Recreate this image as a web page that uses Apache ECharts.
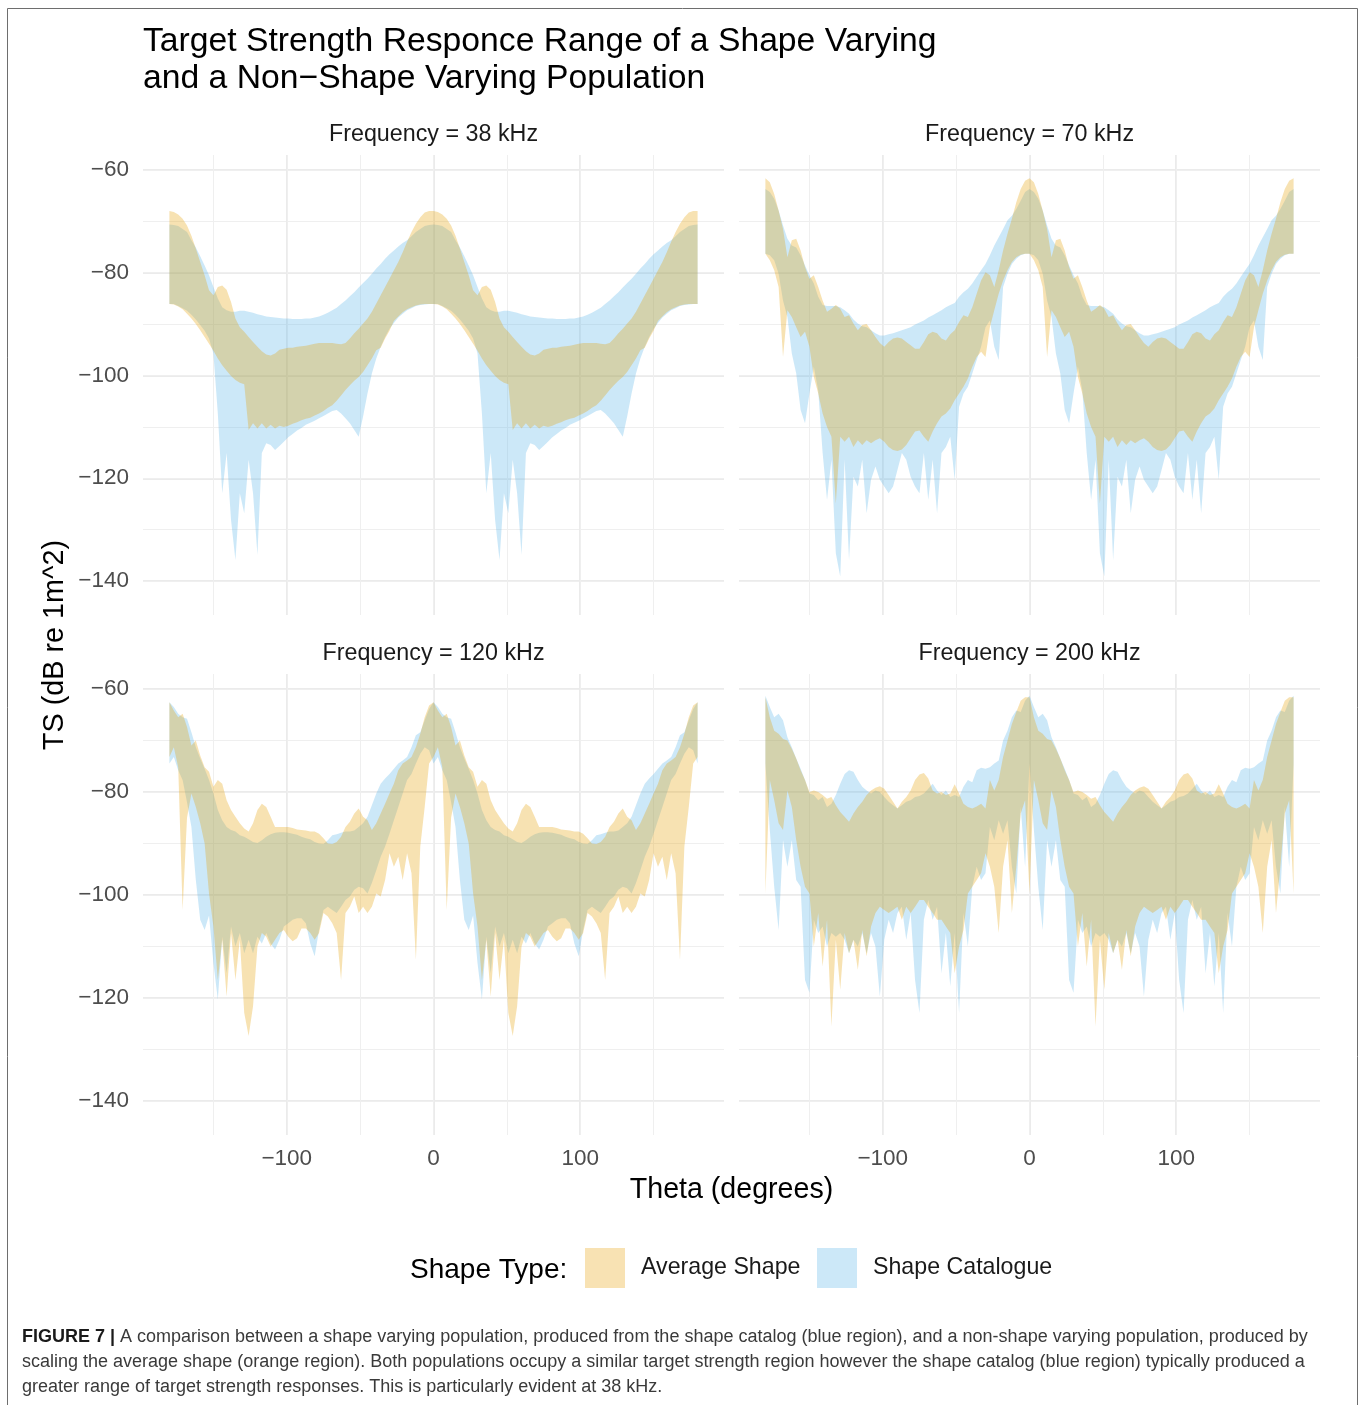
<!DOCTYPE html>
<html>
<head>
<meta charset="utf-8">
<title>Target Strength Responce Range</title>
<script src="https://cdn.jsdelivr.net/npm/echarts@6.0.0/dist/echarts.min.js"></script>
<style>
  html, body { margin: 0; padding: 0; background: #fff; }
  #chart { width: 1360px; height: 1405px; }
</style>
</head>
<body>
<div id="chart"></div>
<script>
// theta (degrees), shared by all four panels
var theta = [
  -180,-177,-174,-171,-168,-165,-162,-159,-156,-153,
  -150,-147,-144,-141,-138,-135,-132,-129,-126,-123,
  -120,-117,-114,-111,-108,-105,-102,-99,-96,-93,
  -90,-87,-84,-81,-78,-75,-72,-69,-66,-63,
  -60,-57,-54,-51,-48,-45,-42,-39,-36,-33,
  -30,-27,-24,-21,-18,-15,-12,-9,-6,-3,
  0,3,6,9,12,15,18,21,24,27,
  30,33,36,39,42,45,48,51,54,57,
  60,63,66,69,72,75,78,81,84,87,
  90,93,96,99,102,105,108,111,114,117,
  120,123,126,129,132,135,138,141,144,147,
  150,153,156,159,162,165,168,171,174,177,
  180
];

// 38 kHz : upper / lower TS edge of each population
var avg38Hi = [
  -68.0,-68.2,-68.7,-69.5,-70.8,-72.8,-75.3,-77.9,-80.5,-83.4,
  -84.4,-82.8,-82.5,-83.3,-85.7,-88.9,-90.6,-91.5,-92.5,-93.5,
  -94.4,-95.3,-95.9,-96.1,-95.7,-95.0,-94.8,-94.6,-94.6,-94.4,
  -94.3,-94.2,-94.0,-93.8,-93.7,-93.7,-93.7,-93.7,-93.8,-93.9,
  -93.7,-92.8,-91.8,-90.9,-89.9,-88.9,-87.6,-86.0,-84.4,-82.8,
  -81.2,-79.5,-77.9,-76.0,-74.0,-72.1,-70.5,-69.2,-68.3,-68.0,
  -68.0,-68.2,-68.7,-69.5,-70.8,-72.8,-75.3,-77.9,-80.5,-83.4,
  -84.4,-82.8,-82.5,-83.3,-85.7,-88.9,-90.6,-91.5,-92.5,-93.5,
  -94.4,-95.3,-95.9,-96.1,-95.7,-95.0,-94.8,-94.6,-94.6,-94.4,
  -94.3,-94.2,-94.0,-93.8,-93.7,-93.7,-93.7,-93.7,-93.8,-93.9,
  -93.7,-92.8,-91.8,-90.9,-89.9,-88.9,-87.6,-86.0,-84.4,-82.8,
  -81.2,-79.5,-77.9,-76.0,-74.0,-72.1,-70.5,-69.2,-68.3,-68.0,
  -68.0
];
var avg38Lo = [
  -86.1,-86.2,-86.6,-87.1,-88.0,-88.9,-90.0,-91.2,-92.5,-93.8,
  -95.2,-96.7,-98.0,-99.1,-100.1,-100.9,-101.4,-101.7,-110.6,-109.3,
  -110.3,-109.3,-110.3,-109.6,-110.3,-109.8,-110.0,-109.8,-109.4,-109.1,
  -108.7,-108.4,-108.2,-107.8,-107.4,-106.9,-106.3,-105.8,-104.9,-103.9,
  -102.8,-101.9,-101.0,-100.3,-99.3,-98.0,-96.7,-95.1,-94.6,-92.8,
  -91.3,-89.4,-88.5,-87.7,-87.1,-86.7,-86.4,-86.2,-86.1,-86.1,
  -86.1,-86.2,-86.6,-87.1,-88.0,-88.9,-90.0,-91.2,-92.5,-93.8,
  -95.2,-96.7,-98.0,-99.1,-100.1,-100.9,-101.4,-101.7,-110.6,-109.3,
  -110.3,-109.3,-110.3,-109.6,-110.3,-109.8,-110.0,-109.8,-109.4,-109.1,
  -108.7,-108.4,-108.2,-107.8,-107.4,-106.9,-106.3,-105.8,-104.9,-103.9,
  -102.8,-101.9,-101.0,-100.3,-99.3,-98.0,-96.7,-95.1,-94.6,-92.8,
  -91.3,-89.4,-88.5,-87.7,-87.1,-86.7,-86.4,-86.2,-86.1,-86.1,
  -86.1
];
var cat38Hi = [
  -70.6,-70.7,-70.9,-71.5,-72.1,-73.7,-75.1,-76.8,-78.6,-80.5,
  -82.8,-85.0,-86.7,-87.3,-87.6,-87.6,-87.4,-87.4,-87.6,-87.8,
  -88.1,-88.3,-88.5,-88.6,-88.7,-88.8,-88.9,-88.9,-89.0,-89.0,
  -89.0,-88.9,-88.9,-88.7,-88.5,-88.2,-87.8,-87.3,-86.8,-86.1,
  -85.4,-84.6,-83.8,-82.9,-82.0,-81.2,-80.2,-79.2,-78.3,-77.3,
  -76.4,-75.7,-74.9,-74.2,-73.7,-72.9,-72.1,-71.5,-70.9,-70.7,
  -70.6,-70.7,-70.9,-71.5,-72.1,-73.7,-75.1,-76.8,-78.6,-80.5,
  -82.8,-85.0,-86.7,-87.3,-87.6,-87.6,-87.4,-87.4,-87.6,-87.8,
  -88.1,-88.3,-88.5,-88.6,-88.7,-88.8,-88.9,-88.9,-89.0,-89.0,
  -89.0,-88.9,-88.9,-88.7,-88.5,-88.2,-87.8,-87.3,-86.8,-86.1,
  -85.4,-84.6,-83.8,-82.9,-82.0,-81.2,-80.2,-79.2,-78.3,-77.3,
  -76.4,-75.7,-74.9,-74.2,-73.7,-72.9,-72.1,-71.5,-70.9,-70.7,
  -70.6
];
var cat38Lo = [
  -86.1,-86.1,-86.5,-86.9,-87.4,-88.2,-89.1,-90.2,-91.3,-92.8,
  -95.7,-107.4,-122.9,-115.1,-128.1,-135.9,-122.9,-126.8,-116.4,-122.9,
  -134.9,-115.1,-113.2,-113.5,-114.5,-113.7,-112.9,-112.0,-111.4,-110.7,
  -110.2,-109.6,-109.2,-108.8,-108.3,-107.9,-107.4,-106.9,-106.7,-107.4,
  -108.3,-109.3,-110.6,-111.9,-108.0,-103.5,-99.6,-96.7,-94.4,-92.5,
  -90.9,-89.8,-88.7,-88.0,-87.3,-86.9,-86.5,-86.3,-86.2,-86.1,
  -86.1,-86.1,-86.5,-86.9,-87.4,-88.2,-89.1,-90.2,-91.3,-92.8,
  -95.7,-107.4,-122.9,-115.1,-128.1,-135.9,-122.9,-126.8,-116.4,-122.9,
  -134.9,-115.1,-113.2,-113.5,-114.5,-113.7,-112.9,-112.0,-111.4,-110.7,
  -110.2,-109.6,-109.2,-108.8,-108.3,-107.9,-107.4,-106.9,-106.7,-107.4,
  -108.3,-109.3,-110.6,-111.9,-108.0,-103.5,-99.6,-96.7,-94.4,-92.5,
  -90.9,-89.8,-88.7,-88.0,-87.3,-86.9,-86.5,-86.3,-86.2,-86.1,
  -86.1
];

// 70 kHz
var avg70Hi = [
  -61.6,-62.4,-64.7,-67.9,-71.5,-77.0,-73.7,-73.4,-75.7,-78.9,
  -81.2,-80.5,-82.8,-85.4,-87.6,-87.0,-86.3,-87.0,-88.6,-88.3,
  -89.9,-91.2,-90.2,-90.0,-91.2,-92.5,-93.7,-94.4,-93.5,-92.8,
  -92.6,-92.8,-93.5,-94.1,-94.8,-94.8,-93.5,-92.0,-91.5,-91.8,
  -92.8,-93.2,-92.0,-91.2,-89.6,-88.3,-88.6,-86.7,-84.1,-81.5,
  -79.9,-80.5,-82.8,-79.5,-75.7,-72.4,-69.5,-66.3,-63.7,-62.1,
  -61.6,-62.4,-64.7,-67.9,-71.5,-77.0,-73.7,-73.4,-75.7,-78.9,
  -81.2,-80.5,-82.8,-85.4,-87.6,-87.0,-86.3,-87.0,-88.6,-88.3,
  -89.9,-91.2,-90.2,-90.0,-91.2,-92.5,-93.7,-94.4,-93.5,-92.8,
  -92.6,-92.8,-93.5,-94.1,-94.8,-94.8,-93.5,-92.0,-91.5,-91.8,
  -92.8,-93.2,-92.0,-91.2,-89.6,-88.3,-88.6,-86.7,-84.1,-81.5,
  -79.9,-80.5,-82.8,-79.5,-75.7,-72.4,-69.5,-66.3,-63.7,-62.1,
  -61.6
];
var avg70Lo = [
  -76.3,-77.6,-79.5,-82.8,-96.4,-87.3,-88.6,-90.6,-92.5,-91.5,
  -94.4,-100.3,-103.5,-107.4,-110.0,-111.9,-124.9,-111.9,-112.9,-111.9,
  -113.9,-112.6,-113.5,-112.6,-113.2,-112.6,-112.2,-112.9,-113.9,-114.5,
  -114.7,-114.4,-113.5,-112.2,-110.9,-110.7,-111.9,-112.9,-110.9,-109.3,
  -108.0,-107.4,-106.4,-104.8,-103.5,-102.2,-100.6,-98.3,-96.4,-95.4,
  -96.4,-90.6,-87.3,-84.1,-81.5,-79.5,-77.9,-77.0,-76.5,-76.3,
  -76.3,-77.6,-79.5,-82.8,-96.4,-87.3,-88.6,-90.6,-92.5,-91.5,
  -94.4,-100.3,-103.5,-107.4,-110.0,-111.9,-124.9,-111.9,-112.9,-111.9,
  -113.9,-112.6,-113.5,-112.6,-113.2,-112.6,-112.2,-112.9,-113.9,-114.5,
  -114.7,-114.4,-113.5,-112.2,-110.9,-110.7,-111.9,-112.9,-110.9,-109.3,
  -108.0,-107.4,-106.4,-104.8,-103.5,-102.2,-100.6,-98.3,-96.4,-95.4,
  -96.4,-90.6,-87.3,-84.1,-81.5,-79.5,-77.9,-77.0,-76.5,-76.3,
  -76.3
];
var cat70Hi = [
  -63.7,-64.3,-65.6,-67.9,-70.8,-73.4,-74.7,-75.1,-76.6,-78.6,
  -80.5,-82.1,-84.7,-86.3,-86.5,-86.5,-86.5,-86.7,-87.3,-88.0,
  -89.1,-89.9,-90.4,-90.6,-91.2,-91.8,-92.2,-92.2,-92.0,-91.8,
  -91.5,-91.2,-90.9,-90.6,-90.1,-89.7,-89.3,-88.7,-88.3,-87.8,
  -87.3,-86.7,-86.3,-85.9,-84.7,-83.8,-83.1,-82.1,-80.8,-79.5,
  -78.3,-76.6,-74.7,-73.1,-71.5,-69.8,-68.9,-67.6,-66.0,-64.3,
  -63.7,-64.3,-65.6,-67.9,-70.8,-73.4,-74.7,-75.1,-76.6,-78.6,
  -80.5,-82.1,-84.7,-86.3,-86.5,-86.5,-86.5,-86.7,-87.3,-88.0,
  -89.1,-89.9,-90.4,-90.6,-91.2,-91.8,-92.2,-92.2,-92.0,-91.8,
  -91.5,-91.2,-90.9,-90.6,-90.1,-89.7,-89.3,-88.7,-88.3,-87.8,
  -87.3,-86.7,-86.3,-85.9,-84.7,-83.8,-83.1,-82.1,-80.8,-79.5,
  -78.3,-76.6,-74.7,-73.1,-71.5,-69.8,-68.9,-67.6,-66.0,-64.3,
  -63.7
];
var cat70Lo = [
  -76.3,-76.6,-77.6,-80.2,-85.4,-88.6,-95.7,-99.6,-106.7,-109.3,
  -103.5,-98.3,-102.9,-115.1,-124.2,-116.4,-134.6,-139.1,-116.4,-135.9,
  -119.7,-121.6,-116.4,-126.8,-120.3,-117.7,-120.3,-121.6,-122.9,-121.6,
  -118.4,-115.1,-116.4,-119.7,-121.6,-122.9,-115.1,-124.2,-116.4,-126.8,
  -115.1,-113.9,-111.9,-120.3,-106.1,-103.5,-102.2,-99.6,-97.0,-94.4,
  -90.6,-89.3,-94.4,-97.0,-82.8,-80.2,-78.3,-77.3,-76.6,-76.3,
  -76.3,-76.6,-77.6,-80.2,-85.4,-88.6,-95.7,-99.6,-106.7,-109.3,
  -103.5,-98.3,-102.9,-115.1,-124.2,-116.4,-134.6,-139.1,-116.4,-135.9,
  -119.7,-121.6,-116.4,-126.8,-120.3,-117.7,-120.3,-121.6,-122.9,-121.6,
  -118.4,-115.1,-116.4,-119.7,-121.6,-122.9,-115.1,-124.2,-116.4,-126.8,
  -115.1,-113.9,-111.9,-120.3,-106.1,-103.5,-102.2,-99.6,-97.0,-94.4,
  -90.6,-89.3,-94.4,-97.0,-82.8,-80.2,-78.3,-77.3,-76.6,-76.3,
  -76.3
];

// 120 kHz
var avg120Hi = [
  -62.6,-64.2,-65.5,-64.8,-67.4,-71.0,-70.0,-72.9,-75.2,-76.1,
  -79.0,-77.7,-78.4,-81.6,-83.5,-84.8,-86.1,-87.1,-87.7,-86.1,
  -83.5,-82.3,-82.9,-84.8,-86.8,-86.8,-86.8,-86.8,-87.0,-87.3,
  -87.4,-87.5,-87.7,-87.7,-88.1,-89.0,-90.0,-90.1,-89.7,-88.7,
  -86.8,-85.8,-84.2,-83.2,-84.8,-85.5,-87.4,-86.1,-84.2,-82.3,
  -80.3,-78.4,-75.8,-74.5,-73.9,-73.2,-71.3,-68.7,-65.5,-63.2,
  -62.6,-64.2,-65.5,-64.8,-67.4,-71.0,-70.0,-72.9,-75.2,-76.1,
  -79.0,-77.7,-78.4,-81.6,-83.5,-84.8,-86.1,-87.1,-87.7,-86.1,
  -83.5,-82.3,-82.9,-84.8,-86.8,-86.8,-86.8,-86.8,-87.0,-87.3,
  -87.4,-87.5,-87.7,-87.7,-88.1,-89.0,-90.0,-90.1,-89.7,-88.7,
  -86.8,-85.8,-84.2,-83.2,-84.8,-85.5,-87.4,-86.1,-84.2,-82.3,
  -80.3,-78.4,-75.8,-74.5,-73.9,-73.2,-71.3,-68.7,-65.5,-63.2,
  -62.6
];
var avg120Lo = [
  -73.2,-71.3,-75.2,-102.9,-85.0,-80.3,-82.9,-86.1,-90.0,-99.7,
  -106.1,-116.5,-108.7,-119.7,-107.4,-116.5,-108.7,-122.9,-127.4,-121.6,
  -110.0,-107.4,-108.1,-110.0,-108.7,-107.4,-106.8,-108.1,-109.0,-108.4,
  -106.5,-106.5,-107.4,-108.7,-107.4,-103.5,-104.2,-105.5,-107.4,-116.5,
  -103.5,-102.3,-100.3,-103.5,-102.3,-103.5,-102.3,-99.7,-100.3,-97.1,
  -91.9,-94.5,-92.6,-97.1,-91.9,-95.8,-112.6,-90.6,-82.9,-74.5,
  -73.2,-71.3,-75.2,-102.9,-85.0,-80.3,-82.9,-86.1,-90.0,-99.7,
  -106.1,-116.5,-108.7,-119.7,-107.4,-116.5,-108.7,-122.9,-127.4,-121.6,
  -110.0,-107.4,-108.1,-110.0,-108.7,-107.4,-106.8,-108.1,-109.0,-108.4,
  -106.5,-106.5,-107.4,-108.7,-107.4,-103.5,-104.2,-105.5,-107.4,-116.5,
  -103.5,-102.3,-100.3,-103.5,-102.3,-103.5,-102.3,-99.7,-100.3,-97.1,
  -91.9,-94.5,-92.6,-97.1,-91.9,-95.8,-112.6,-90.6,-82.9,-74.5,
  -73.2
];
var cat120Hi = [
  -62.6,-63.5,-64.8,-65.5,-65.8,-68.4,-71.3,-73.5,-75.5,-77.7,
  -80.3,-83.5,-85.5,-86.8,-87.4,-87.7,-88.4,-88.7,-89.2,-89.7,
  -89.9,-89.4,-88.7,-88.2,-87.9,-87.8,-87.8,-87.9,-88.1,-88.3,
  -88.7,-89.0,-89.2,-89.7,-90.0,-90.1,-89.4,-88.4,-88.2,-87.9,
  -87.7,-87.7,-87.5,-86.8,-86.1,-84.8,-82.6,-80.3,-78.4,-77.4,
  -76.5,-75.5,-74.5,-73.9,-73.2,-71.3,-69.0,-68.4,-66.1,-63.9,
  -62.6,-63.5,-64.8,-65.5,-65.8,-68.4,-71.3,-73.5,-75.5,-77.7,
  -80.3,-83.5,-85.5,-86.8,-87.4,-87.7,-88.4,-88.7,-89.2,-89.7,
  -89.9,-89.4,-88.7,-88.2,-87.9,-87.8,-87.8,-87.9,-88.1,-88.3,
  -88.7,-89.0,-89.2,-89.7,-90.0,-90.1,-89.4,-88.4,-88.2,-87.9,
  -87.7,-87.7,-87.5,-86.8,-86.1,-84.8,-82.6,-80.3,-78.4,-77.4,
  -76.5,-75.5,-74.5,-73.9,-73.2,-71.3,-69.0,-68.4,-66.1,-63.9,
  -62.6
];
var cat120Lo = [
  -74.5,-73.2,-75.8,-77.7,-82.0,-86.8,-97.1,-104.8,-106.8,-104.0,
  -113.2,-120.3,-108.1,-115.2,-106.1,-110.0,-107.4,-111.3,-108.7,-111.3,
  -108.1,-109.4,-107.4,-109.4,-110.6,-108.7,-106.1,-105.5,-104.8,-104.5,
  -104.5,-105.5,-109.4,-111.9,-106.8,-102.9,-102.3,-102.9,-103.5,-102.3,
  -101.0,-100.3,-99.0,-98.4,-98.7,-99.7,-97.7,-95.2,-92.6,-90.6,
  -88.1,-85.5,-82.9,-80.3,-77.7,-76.5,-74.5,-72.6,-71.3,-71.9,
  -74.5,-73.2,-75.8,-77.7,-82.0,-86.8,-97.1,-104.8,-106.8,-104.0,
  -113.2,-120.3,-108.1,-115.2,-106.1,-110.0,-107.4,-111.3,-108.7,-111.3,
  -108.1,-109.4,-107.4,-109.4,-110.6,-108.7,-106.1,-105.5,-104.8,-104.5,
  -104.5,-105.5,-109.4,-111.9,-106.8,-102.9,-102.3,-102.9,-103.5,-102.3,
  -101.0,-100.3,-99.0,-98.4,-98.7,-99.7,-97.7,-95.2,-92.6,-90.6,
  -88.1,-85.5,-82.9,-80.3,-77.7,-76.5,-74.5,-72.6,-71.3,-71.9,
  -74.5
];

// 200 kHz
var avg200Hi = [
  -61.6,-65.5,-68.1,-68.7,-69.7,-70.0,-71.6,-73.5,-75.8,-77.7,
  -80.0,-79.7,-80.0,-80.6,-81.3,-81.0,-82.6,-83.9,-84.8,-85.8,
  -84.2,-82.9,-81.9,-80.6,-79.7,-79.2,-78.9,-79.4,-80.6,-81.9,
  -83.2,-81.9,-81.0,-79.7,-77.7,-76.6,-76.3,-77.4,-79.7,-80.3,
  -80.0,-80.6,-80.3,-78.5,-80.3,-82.3,-82.9,-83.2,-82.8,-82.3,
  -83.2,-77.7,-79.7,-77.7,-73.2,-70.0,-66.8,-64.5,-62.3,-61.6,
  -61.6,-65.5,-68.1,-68.7,-69.7,-70.0,-71.6,-73.5,-75.8,-77.7,
  -80.0,-79.7,-80.0,-80.6,-81.3,-81.0,-82.6,-83.9,-84.8,-85.8,
  -84.2,-82.9,-81.9,-80.6,-79.7,-79.2,-78.9,-79.4,-80.6,-81.9,
  -83.2,-81.9,-81.0,-79.7,-77.7,-76.6,-76.3,-77.4,-79.7,-80.3,
  -80.0,-80.6,-80.3,-78.5,-80.3,-82.3,-82.9,-83.2,-82.8,-82.3,
  -83.2,-77.7,-79.7,-77.7,-73.2,-70.0,-66.8,-64.5,-62.3,-61.6,
  -61.6
];
var avg200Lo = [
  -99.7,-77.7,-81.6,-86.1,-87.4,-79.7,-82.9,-89.4,-94.5,-98.4,
  -99.7,-110.0,-103.5,-113.9,-104.8,-125.5,-108.7,-118.4,-107.4,-111.3,
  -108.7,-114.5,-106.8,-111.9,-106.1,-103.5,-102.3,-102.9,-103.5,-102.9,
  -102.3,-104.8,-102.3,-103.5,-102.3,-101.0,-101.0,-102.3,-103.5,-104.8,
  -104.8,-106.1,-107.4,-115.2,-110.0,-106.8,-99.7,-98.4,-97.1,-95.8,
  -91.9,-94.5,-98.4,-107.4,-94.5,-89.4,-103.5,-94.5,-84.2,-81.6,
  -99.7,-77.7,-81.6,-86.1,-87.4,-79.7,-82.9,-89.4,-94.5,-98.4,
  -99.7,-110.0,-103.5,-113.9,-104.8,-125.5,-108.7,-118.4,-107.4,-111.3,
  -108.7,-114.5,-106.8,-111.9,-106.1,-103.5,-102.3,-102.9,-103.5,-102.9,
  -102.3,-104.8,-102.3,-103.5,-102.3,-101.0,-101.0,-102.3,-103.5,-104.8,
  -104.8,-106.1,-107.4,-115.2,-110.0,-106.8,-99.7,-98.4,-97.1,-95.8,
  -91.9,-94.5,-98.4,-107.4,-94.5,-89.4,-103.5,-94.5,-84.2,-81.6,
  -99.7
];
var cat200Hi = [
  -61.3,-63.5,-65.5,-64.8,-66.1,-69.4,-71.3,-73.5,-75.5,-77.7,
  -80.3,-80.6,-81.6,-81.0,-82.9,-82.3,-80.6,-78.4,-76.5,-75.8,
  -76.1,-77.7,-79.0,-79.7,-80.3,-79.7,-80.0,-81.0,-81.9,-82.6,
  -83.2,-82.6,-81.9,-81.6,-81.0,-80.8,-80.3,-79.4,-78.4,-79.7,
  -80.6,-79.7,-81.0,-80.6,-81.0,-79.0,-77.7,-78.1,-75.8,-75.3,
  -75.5,-75.2,-74.5,-73.9,-70.0,-68.1,-65.5,-64.2,-64.5,-62.3,
  -61.3,-63.5,-65.5,-64.8,-66.1,-69.4,-71.3,-73.5,-75.5,-77.7,
  -80.3,-80.6,-81.6,-81.0,-82.9,-82.3,-80.6,-78.4,-76.5,-75.8,
  -76.1,-77.7,-79.0,-79.7,-80.3,-79.7,-80.0,-81.0,-81.9,-82.6,
  -83.2,-82.6,-81.9,-81.6,-81.0,-80.8,-80.3,-79.4,-78.4,-79.7,
  -80.6,-79.7,-81.0,-80.6,-81.0,-79.0,-77.7,-78.1,-75.8,-75.3,
  -75.5,-75.2,-74.5,-73.9,-70.0,-68.1,-65.5,-64.2,-64.5,-62.3,
  -61.3
];
var cat200Lo = [
  -74.5,-87.4,-98.4,-106.8,-89.4,-94.5,-89.4,-97.1,-98.4,-116.5,
  -119.0,-104.8,-107.4,-106.1,-110.0,-107.4,-108.1,-107.4,-108.7,-111.3,
  -108.7,-110.0,-107.4,-111.3,-107.4,-110.0,-119.7,-108.7,-104.8,-107.4,
  -103.5,-102.3,-108.7,-103.5,-116.5,-122.9,-104.8,-101.0,-104.8,-102.3,
  -115.2,-107.4,-117.7,-107.4,-122.9,-103.5,-110.0,-98.4,-94.5,-97.1,
  -95.8,-86.8,-89.4,-85.5,-88.1,-85.5,-94.5,-99.7,-82.9,-94.5,
  -74.5,-87.4,-98.4,-106.8,-89.4,-94.5,-89.4,-97.1,-98.4,-116.5,
  -119.0,-104.8,-107.4,-106.1,-110.0,-107.4,-108.1,-107.4,-108.7,-111.3,
  -108.7,-110.0,-107.4,-111.3,-107.4,-110.0,-119.7,-108.7,-104.8,-107.4,
  -103.5,-102.3,-108.7,-103.5,-116.5,-122.9,-104.8,-101.0,-104.8,-102.3,
  -115.2,-107.4,-117.7,-107.4,-122.9,-103.5,-110.0,-98.4,-94.5,-97.1,
  -95.8,-86.8,-89.4,-85.5,-88.1,-85.5,-94.5,-99.7,-82.9,-94.5,
  -74.5
];

var panels = [
  { label: 'Frequency = 38 kHz',  avgLo: avg38Lo,  avgHi: avg38Hi,  catLo: cat38Lo,  catHi: cat38Hi },
  { label: 'Frequency = 70 kHz',  avgLo: avg70Lo,  avgHi: avg70Hi,  catLo: cat70Lo,  catHi: cat70Hi },
  { label: 'Frequency = 120 kHz', avgLo: avg120Lo, avgHi: avg120Hi, catLo: cat120Lo, catHi: cat120Hi },
  { label: 'Frequency = 200 kHz', avgLo: avg200Lo, avgHi: avg200Hi, catLo: cat200Lo, catHi: cat200Hi }
];

var FONT = '"Liberation Sans", Arial, Helvetica, sans-serif';
var AVG_FILL = 'rgba(230,159,0,0.3)';
var CAT_FILL = 'rgba(86,180,233,0.3)';
// panel boxes: left, top, width, height
var boxes = [[143, 155, 581, 460], [739, 155, 581, 460], [143, 674, 581, 461], [739, 674, 581, 461]];

function minusSign(v) {
  return v < 0 ? '\u2212' + Math.abs(v) : String(v);
}

// one ribbon = one polygon, upper edge left->right then lower edge back
function ribbon(name, lo, hi, fill, idx) {
  return {
    type: 'custom',
    name: name,
    coordinateSystem: 'cartesian2d',
    xAxisIndex: idx * 2,
    yAxisIndex: idx * 2,
    silent: true,
    encode: { x: 0, y: [1, 2] },
    data: theta.map(function (t, k) { return [t, lo[k], hi[k]]; }),
    renderItem: function (params, api) {
      if (params.dataIndexInside !== 0) return null;
      var n = params.dataInsideLength;
      var pts = [];
      for (var k = 0; k < n; k++) pts.push(api.coord([api.value(0, k), api.value(2, k)]));
      for (k = n - 1; k >= 0; k--) pts.push(api.coord([api.value(0, k), api.value(1, k)]));
      return { type: 'polygon', shape: { points: pts }, style: { fill: fill } };
    }
  };
}

var grids = [], xAxes = [], yAxes = [], series = [], texts = [];
panels.forEach(function (p, i) {
  var b = boxes[i];
  grids.push({ left: b[0], top: b[1], width: b[2], height: b[3], outerBoundsMode: 'none' });

  // major grid + labels
  xAxes.push({
    gridIndex: i, type: 'value', min: -198, max: 198, splitNumber: 4,
    axisLine: { show: false }, axisTick: { show: false },
    axisLabel: {
      show: i >= 2, margin: 12, fontSize: 22.5, color: '#4D4D4D', fontFamily: FONT,
      showMinLabel: false, showMaxLabel: false,
      formatter: function (v) { return v % 100 === 0 ? minusSign(v) : ''; }
    },
    splitLine: { show: true, showMinLine: false, showMaxLine: false, lineStyle: { color: '#EBEBEB', width: 2 } }
  });
  // minor grid
  xAxes.push({
    gridIndex: i, type: 'value', min: -198, max: 198, splitNumber: 8,
    axisLine: { show: false }, axisTick: { show: false }, axisLabel: { show: false },
    splitLine: { show: true, showMinLine: false, showMaxLine: false, lineStyle: { color: '#EFEFEF', width: 1 } }
  });
  yAxes.push({
    gridIndex: i, type: 'value', min: -146.6, max: -57.1, splitNumber: 4,
    axisLine: { show: false }, axisTick: { show: false },
    axisLabel: {
      show: i % 2 === 0, margin: 14, fontSize: 22.5, color: '#4D4D4D', fontFamily: FONT,
      padding: [4, 0, 0, 0],
      showMinLabel: false, showMaxLabel: false,
      formatter: function (v) { return Math.abs(v % 20) < 1e-6 ? minusSign(v) : ''; }
    },
    splitLine: { show: true, showMinLine: false, showMaxLine: false, lineStyle: { color: '#EBEBEB', width: 2 } }
  });
  yAxes.push({
    gridIndex: i, type: 'value', min: -146.6, max: -57.1, splitNumber: 9,
    axisLine: { show: false }, axisTick: { show: false }, axisLabel: { show: false },
    splitLine: { show: true, showMinLine: false, showMaxLine: false, lineStyle: { color: '#EFEFEF', width: 1 } }
  });

  series.push(ribbon('Shape Catalogue', p.catLo, p.catHi, CAT_FILL, i));
  series.push(ribbon('Average Shape', p.avgLo, p.avgHi, AVG_FILL, i));

  texts.push({
    type: 'text', x: b[0] + b[2] / 2, y: b[1] - 20, silent: true,
    style: { text: p.label, font: '23.3px ' + FONT, fill: '#1A1A1A', align: 'center', verticalAlign: 'middle' }
  });
});

texts.push(
  { type: 'rect', silent: true, shape: { x: 7.5, y: 8.5, width: 1350, height: 1420 },
    style: { fill: 'none', stroke: '#6E6E6E', lineWidth: 1 } },
  { type: 'text', x: 143, y: 42, silent: true,
    style: { text: 'Target Strength Responce Range of a Shape Varying', font: '33.7px ' + FONT, fill: '#000', verticalAlign: 'middle' } },
  { type: 'text', x: 143, y: 79, silent: true,
    style: { text: 'and a Non\u2212Shape Varying Population', font: '33.7px ' + FONT, fill: '#000', verticalAlign: 'middle' } },
  { type: 'text', x: 55, y: 645, rotation: Math.PI / 2, silent: true,
    style: { text: 'TS (dB re 1m^2)', font: '28.8px ' + FONT, fill: '#000', align: 'center', verticalAlign: 'middle' } },
  { type: 'text', x: 731.5, y: 1190, silent: true,
    style: { text: 'Theta (degrees)', font: '28.6px ' + FONT, fill: '#000', align: 'center', verticalAlign: 'middle' } },
  { type: 'text', x: 410, y: 1270, silent: true,
    style: { text: 'Shape Type:', font: '28px ' + FONT, fill: '#000', verticalAlign: 'middle' } },
  { type: 'text', x: 22, y: 1325, silent: true,
    style: {
      text: '{b|FIGURE 7 |} A comparison between a shape varying population, produced from the shape catalog (blue region), and a non-shape varying population, produced by\n' +
            'scaling the average shape (orange region). Both populations occupy a similar target strength region however the shape catalog (blue region) typically produced a\n' +
            'greater range of target strength responses. This is particularly evident at 38 kHz.',
      font: '18px ' + FONT, fill: '#3A3A3A', lineHeight: 25, verticalAlign: 'top',
      rich: { b: { fontWeight: 'bold', fontSize: 18, fontFamily: FONT, fill: '#1A1A1A', lineHeight: 25 } }
    } }
);

function legendBox(name, color, left) {
  return {
    left: left, top: 1248, padding: 0, itemWidth: 40, itemHeight: 40, icon: 'rect',
    selectedMode: false,
    data: [{ name: name, itemStyle: { color: color, borderWidth: 0, opacity: 1 } }],
    textStyle: { fontSize: 23.2, color: '#1A1A1A', fontFamily: FONT, padding: [4, 0, 0, 11] }
  };
}

var chart = echarts.init(document.getElementById('chart'));
chart.setOption({
  animation: false,
  backgroundColor: '#fff',
  textStyle: { fontFamily: FONT },
  grid: grids,
  xAxis: xAxes,
  yAxis: yAxes,
  legend: [legendBox('Average Shape', '#F8E2B3', 585), legendBox('Shape Catalogue', '#CCE8F8', 817)],
  graphic: texts,
  series: series
});
</script>
</body>
</html>
